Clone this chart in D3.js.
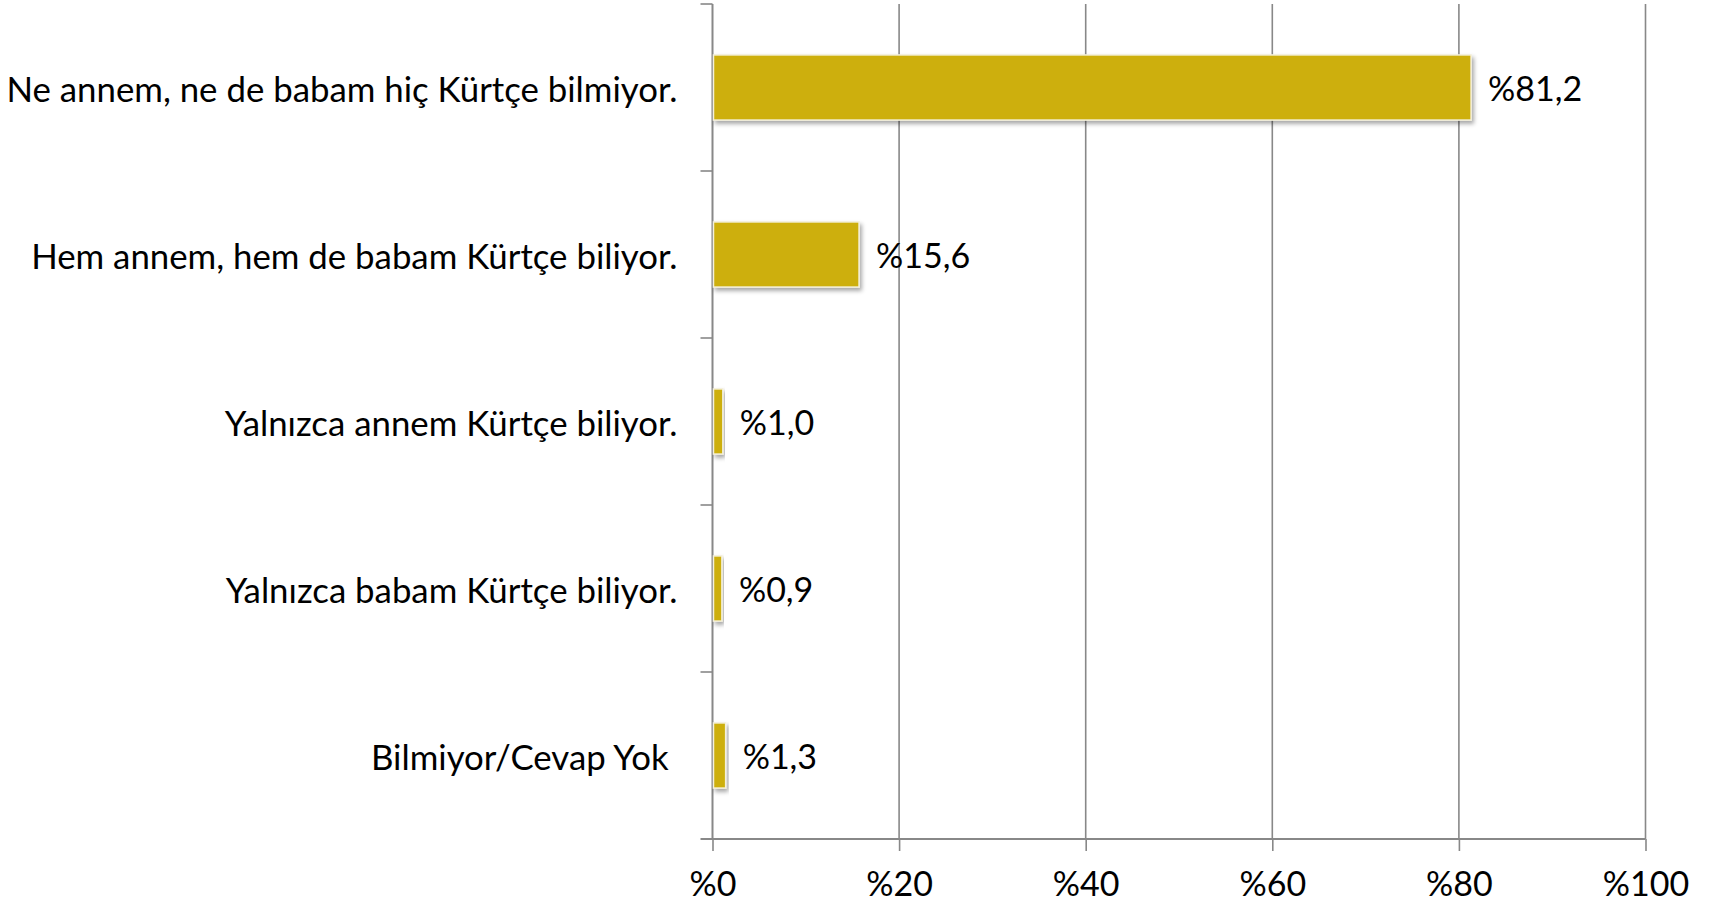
<!DOCTYPE html>
<html>
<head>
<meta charset="utf-8">
<script src="https://cdn.jsdelivr.net/npm/d3@7"></script>
<style>
  body { margin: 0; background: #fff; }
  svg text { font-family: Lato, "Open Sans", sans-serif; fill: #000; }
</style>
</head>
<body>
<div id="chart"></div>
<script>
// data
var categories = [
  "Ne annem, ne de babam hiç Kürtçe bilmiyor.",
  "Hem annem, hem de babam Kürtçe biliyor.",
  "Yalnızca annem Kürtçe biliyor.",
  "Yalnızca babam Kürtçe biliyor.",
  "Bilmiyor/Cevap Yok\u00a0"
];
var values = [81.2, 15.6, 1.0, 0.9, 1.3];
var xTicks = [0, 20, 40, 60, 80, 100];

var W = 1713, H = 905;
var plotL = 712.5, plotR = 1645.5, plotT = 4, plotB = 839;
var fontSize = 34;
var catFontSize = 34.8;
var barColor = "#cdaf0c";
var gridColor = "#888888";

var svg = d3.select("#chart").append("svg")
  .attr("width", W).attr("height", H);

var defs = svg.append("defs");
var f = defs.append("filter").attr("id", "shadow")
  .attr("x", "-10%").attr("y", "-20%").attr("width", "130%").attr("height", "160%");
f.append("feDropShadow").attr("dx", 2).attr("dy", 3).attr("stdDeviation", 2)
  .attr("flood-color", "#000").attr("flood-opacity", 0.35);

var x = d3.scaleLinear().domain([0, 100]).range([plotL, plotR]);
var y = d3.scaleBand().domain(categories).range([plotT, plotB]).padding(0);
var barH = y.bandwidth() * 0.39;

// vertical gridlines
svg.append("g").selectAll("line").data(xTicks.slice(1)).enter().append("line")
  .attr("x1", function(d) { return x(d); }).attr("x2", function(d) { return x(d); })
  .attr("y1", plotT).attr("y2", plotB)
  .attr("stroke", gridColor).attr("stroke-width", 1.6);

// x axis
var xAxis = d3.axisBottom(x).tickValues(xTicks).tickSize(12).tickPadding(21)
  .tickFormat(function(d) { return "%" + d; });
var gx = svg.append("g").attr("transform", "translate(0," + plotB + ")").call(xAxis);
gx.select(".domain").remove();
gx.append("line").attr("x1", plotL - 12).attr("x2", plotR).attr("y1", 0).attr("y2", 0)
  .attr("stroke", gridColor).attr("stroke-width", 2);
gx.selectAll(".tick line").attr("stroke", gridColor).attr("stroke-width", 1.6);
gx.selectAll(".tick text").attr("font-size", fontSize).attr("font-family", "Lato, sans-serif")
  .attr("dy", "0.71em");

// y axis line with ticks at band boundaries
var gy = svg.append("g");
gy.append("line").attr("x1", plotL).attr("x2", plotL).attr("y1", plotT).attr("y2", plotB)
  .attr("stroke", gridColor).attr("stroke-width", 2);
gy.selectAll("line.t").data(categories).enter().append("line").attr("class", "t")
  .attr("x1", plotL - 12).attr("x2", plotL)
  .attr("y1", function(d) { return y(d); }).attr("y2", function(d) { return y(d); })
  .attr("stroke", gridColor).attr("stroke-width", 1.6);

// category labels
svg.append("g").selectAll("text").data(categories).enter().append("text")
  .attr("x", plotL - 35).attr("y", function(d) { return y(d) + y.bandwidth() / 2 + 2; })
  .attr("dy", "0.35em").attr("text-anchor", "end").attr("font-size", catFontSize)
  .style("white-space", "pre")
  .text(function(d) { return d; });

// bars
var rows = categories.map(function(c, i) { return { cat: c, v: values[i] }; });
svg.append("g").selectAll("rect").data(rows).enter().append("rect")
  .attr("x", x(0) + 1)
  .attr("y", function(d) { return y(d.cat) + (y.bandwidth() - barH) / 2; })
  .attr("width", function(d) { return x(d.v) - x(0); })
  .attr("height", barH)
  .attr("fill", barColor).attr("stroke", "#f4f0dc").attr("stroke-width", 1.5)
  .attr("filter", "url(#shadow)");

// value labels
svg.append("g").selectAll("text").data(rows).enter().append("text")
  .attr("x", function(d) { return x(d.v) + 18; })
  .attr("y", function(d) { return y(d.cat) + y.bandwidth() / 2 + 2; })
  .attr("dy", "0.35em").attr("font-size", fontSize)
  .text(function(d) { return "%" + d.v.toFixed(1).replace(".", ","); });
</script>
</body>
</html>
